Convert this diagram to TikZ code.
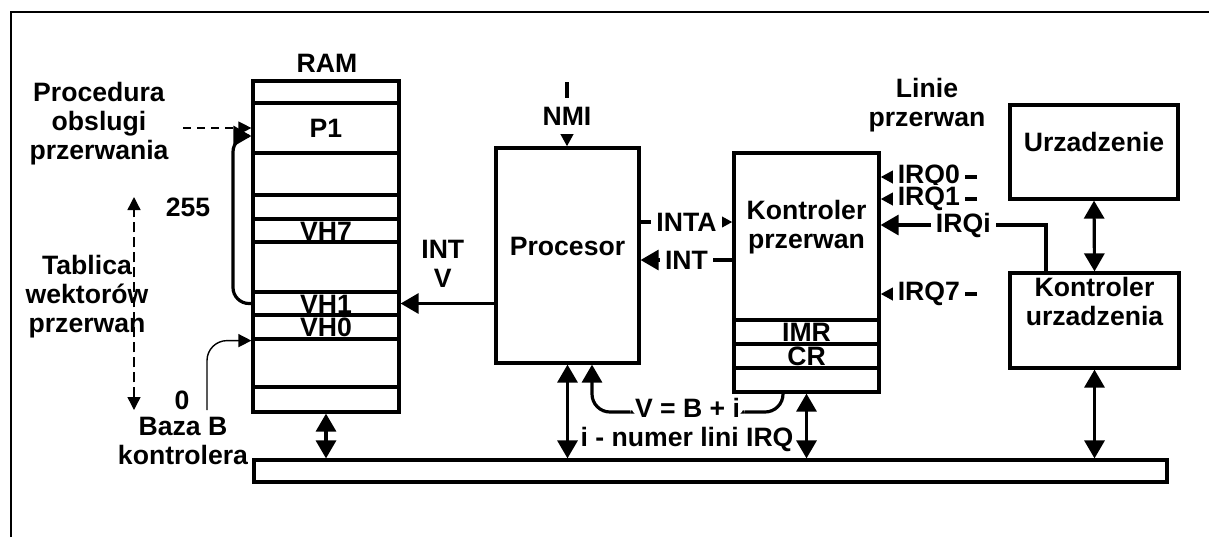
\documentclass[tikz,border=0pt]{standalone}
\usepackage{fontspec}
\setmainfont{Liberation Sans}
\usepackage{tikz}
\usetikzlibrary{arrows.meta,positioning,fit}
\tikzset{
  irqunit/.style     = {rectangle, draw=black, line width=1.6pt, inner sep=0pt,
                        align=center},
  irqcell/.style     = {rectangle, draw=black, line width=1.6pt, inner sep=0pt,
                        minimum width=73pt, text height=9.5pt, text depth=0pt},
  irqtxt/.style      = {align=center, inner sep=1pt},
  irqlbl/.style      = {fill=white, inner xsep=2.5pt, inner ysep=1pt},
  irqflow/.style     = {-{Triangle[length=6.5pt,width=6.5pt]}, line width=1.6pt},
  irqbig/.style      = {-{Triangle[length=9pt,width=10pt]}, line width=1.6pt},
  irqbus/.style      = {{Triangle[length=9pt,width=10pt]}-{Triangle[length=9pt,width=10pt]},
                        line width=1.6pt},
  irqdash/.style     = {-{Triangle[length=6.5pt,width=6.5pt]}, line width=0.7pt,
                        dash pattern=on 4pt off 3pt},
  irqdashboth/.style = {{Triangle[length=6.5pt,width=6.5pt]}-{Triangle[length=6.5pt,width=6.5pt]},
                        line width=0.7pt, dash pattern=on 5pt off 2.5pt},
  irqthin/.style     = {-{Triangle[length=6.5pt,width=6.5pt]}, line width=0.7pt,
                        rounded corners=10pt},
}

\begin{document}
\begin{tikzpicture}[x=0.5pt, y=-0.5pt, font=\fontsize{13.3}{14.5}\selectfont\bfseries]
  \useasboundingbox (0,0) rectangle (1209,537);
  \draw[line width=1pt] (11,537) -- (11,12) -- (1209,12);

  % RAM
  \node[irqtxt] (ramlbl) at (327,63) {RAM};
  \node[irqcell, minimum height=11pt]   (r1)  at (326,92)    {};
  \node[irqcell, minimum height=25pt]   (p1)  at (326,128)   {P1};
  \node[irqcell, minimum height=21pt]   (r3)  at (326,174)   {};
  \node[irqcell, minimum height=12pt]   (r4)  at (326,207)   {};
  \node[irqcell, minimum height=11.5pt] (vh7) at (326,230.5) {VH7};
  \node[irqcell, minimum height=25pt]   (r6)  at (326,267)   {};
  \node[irqcell, minimum height=11.5pt] (vh1) at (326,303.5) {VH1};
  \node[irqcell, minimum height=12pt]   (vh0) at (326,327)   {VH0};
  \node[irqcell, minimum height=24pt]   (r9)  at (326,363)   {};
  \node[irqcell, minimum height=12.5pt] (r10) at (326,399.5) {};

  % left side labels
  \node[irqtxt] (proclbl) at (99,124)  {Procedura\\obslugi\\przerwania};
  \node[irqtxt] (tablbl)  at (87,297)  {Tablica\\wektorów\\przerwan};
  \node[irqtxt] (n255)    at (188,207) {255};
  \node[irqtxt] (n0)      at (182,400) {0};
  \node[irqtxt] (bazalbl) at (183,441) {Baza B\\kontrolera};

  % units
  \node[irqunit, fit={(496,148) (639,363)}] (cpu) {Procesor};
  \node[irqunit, fit={(734,153) (879,320)}] (kp)  {Kontroler\\przerwan};
  \node[irqcell, minimum width=72.5pt, minimum height=12pt] (imr) at (806.5,332) {IMR};
  \node[irqcell, minimum width=72.5pt, minimum height=12pt] (cr)  at (806.5,356) {CR};
  \node[irqcell, minimum width=72.5pt, minimum height=12pt] (kpb) at (806.5,380) {};
  \node[irqunit, fit={(1010,105) (1178,199)}] (dev)    {Urzadzenie};
  \node[irqunit, fit={(1010,273) (1179,368)}] (devctl) {};
  \node[irqtxt] (devctllbl) at (1094.5,301) {Kontroler\\urzadzenia};
  \node[irqunit, fit={(254,460) (1167,482)}] (bus) {};
  \node[irqtxt] (linlbl) at (927,105) {Linie\\przerwan};
  \node[irqtxt] (irqnum) at (687,439) {i - numer lini IRQ};

  % signals
  \coordinate (nmisrc) at (567,82);
  \coordinate (inta) at (686,222);
  \coordinate (int)  at (686,260);
  \draw[irqflow] (nmisrc) -- node[irqlbl, inner ysep=4.5pt, yshift=-1pt]{NMI} (nmisrc |- cpu.north);
  \draw[irqflow] (cpu.east |- inta) -- node[irqlbl]{INTA} (kp.west |- inta);
  \draw[irqbig] (kp.west |- int) -- node[irqlbl]{INT} (cpu.east |- int);
  \draw[irqbig] (cpu.west |- vh1) -- node[irqtxt, above=6pt, pos=0.55]{INT\\V} (vh1.east);

  \coordinate (irq0) at (977,177);
  \coordinate (irq1) at (977,199);
  \coordinate (irq7) at (977,294);
  \coordinate (irqi) at (1046,225);
  \draw[irqflow] (irq0) -- node[irqlbl]{IRQ0} (kp.east |- irq0);
  \draw[irqflow] (irq1) -- node[irqlbl]{IRQ1} (kp.east |- irq1);
  \draw[irqflow] (irq7) -- node[irqlbl]{IRQ7} (kp.east |- irq7);
  \draw[irqbig] (devctl.north -| irqi) -- (irqi) -- node[irqlbl]{IRQi} (kp.east |- irqi);

  % bus
  \draw[irqbus] (r10.south) -- (r10.south |- bus.north);
  \draw[irqbus] (cpu.south) -- (cpu.south |- bus.north);
  \draw[irqbus] (kpb.south) -- (kpb.south |- bus.north);
  \draw[irqbus] (devctl.south) -- (devctl.south |- bus.north);
  \draw[irqbus] (dev.south) -- (devctl.north);

  % vector number
  \coordinate (vbr) at (783,412);
  \coordinate (vbl) at (592,412);
  \draw[irqbig, rounded corners=9pt] (kpb.south -| vbr) -- (vbr)
        -- node[irqlbl, yshift=2pt]{V = B + i} (vbl) -- (cpu.south -| vbl);

  % jump to handler
  \coordinate (loop) at (233,136);
  \draw[irqbig, rounded corners=8pt] (vh1.west) -| (loop) -- (p1.west |- loop);
  \coordinate (dashsrc) at (183,128);
  \draw[irqdash] (dashsrc) -- (p1.west);
  \coordinate (tabtop) at (134,197);
  \coordinate (tabbot) at (134,410);
  \draw[irqdashboth] (tabbot) -- (tabtop);
  \coordinate (bazasrc) at (207,410);
  \draw[irqthin] (bazasrc) |- (vh0.south west);
\end{tikzpicture}
\end{document}
